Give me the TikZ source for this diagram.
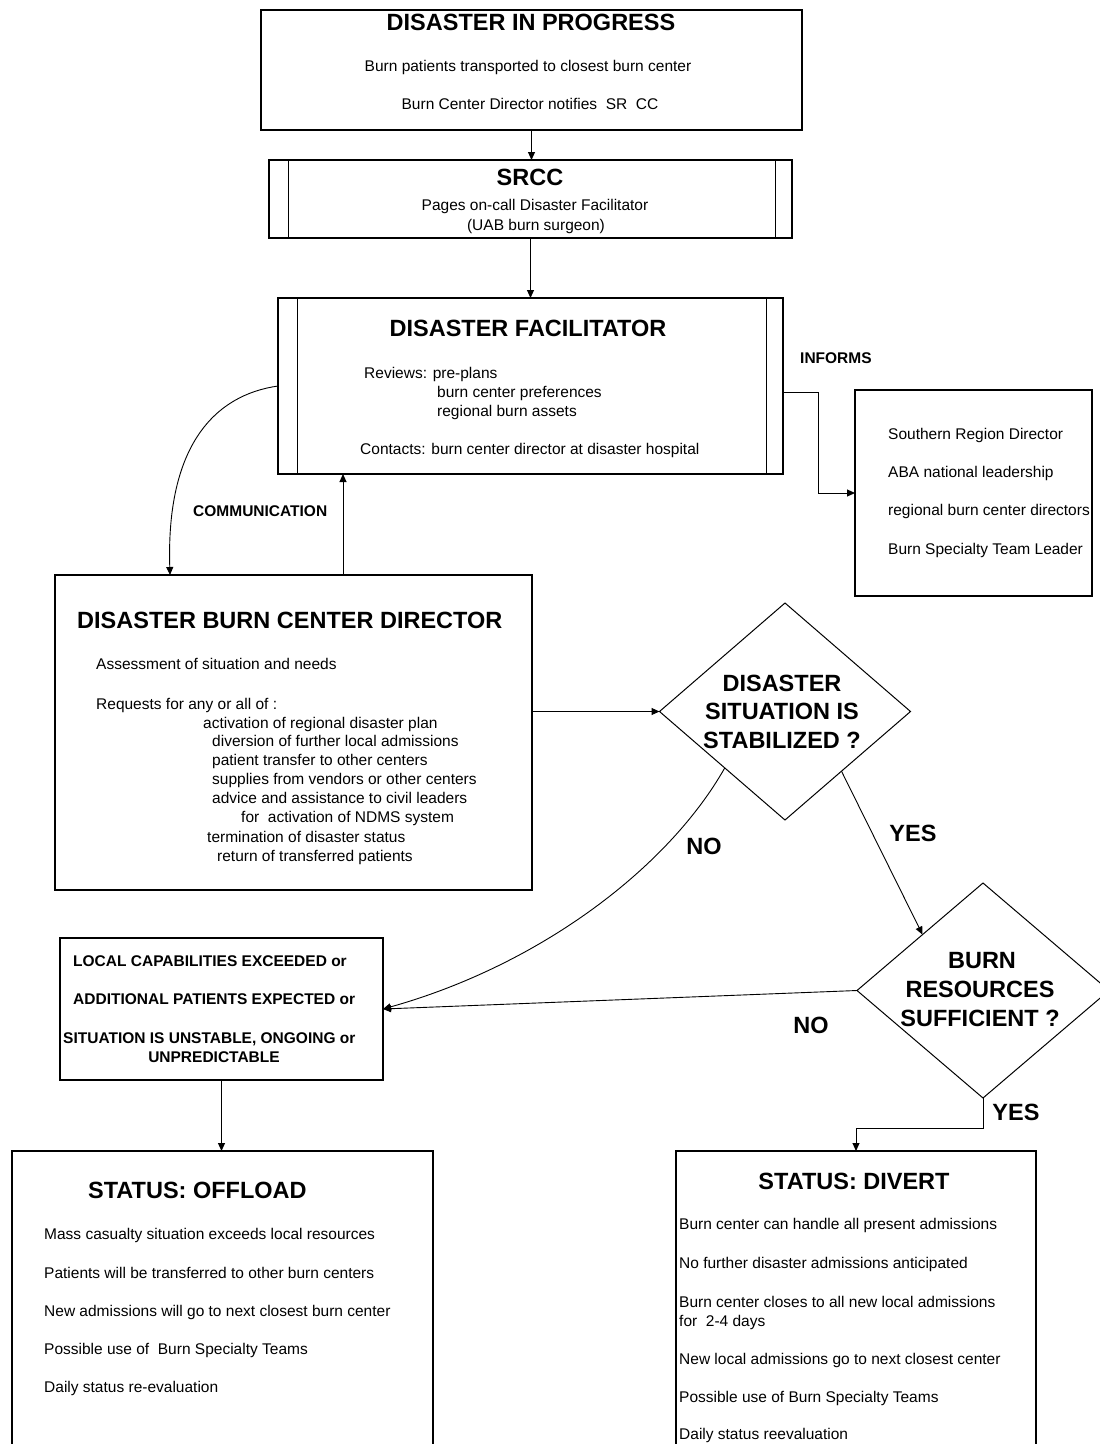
\documentclass[tikz,border=0pt]{standalone}
\usepackage{fontspec}
\setmainfont{Liberation Sans}
\usetikzlibrary{arrows.meta,shapes.geometric,calc}
\newcommand\fsBody{\fontsize{15.5}{18}\selectfont}
\newcommand\fsBig{\fontsize{23.5}{28}\selectfont\bfseries}
\newcommand\fsLab{\fontsize{15.5}{18}\selectfont\bfseries}
\begin{document}
\begin{tikzpicture}[x=1pt,y=-1pt,
  box/.style={draw=black, line width=1.1pt, inner sep=0pt, outer sep=0pt, anchor=north west},
  txt/.style={inner sep=0pt, anchor=base west, font=\fsBody},
  ctxt/.style={inner sep=0pt, anchor=base, font=\fsBody},
  big/.style={inner sep=0pt, anchor=base, font=\fsBig},
  bigw/.style={inner sep=0pt, anchor=base west, font=\fsBig},
  lab/.style={inner sep=0pt, anchor=base west, font=\fsLab},
  dia/.style={diamond, draw=black, line width=1pt, inner sep=0pt, outer sep=0pt},
  arr/.style={-{Triangle[length=8pt,width=7pt]}, line width=1pt},
  inner/.style={line width=1pt}]
\useasboundingbox (0,0) rectangle (1100,1444);
\fill[white] (0,0) rectangle (1100,1444);

% ---- DISASTER IN PROGRESS
\node[box, minimum width=541pt, minimum height=120pt] (prog) at (261,10) {};
\node[big] (progT) at (531,30.4) {DISASTER IN PROGRESS};
\node[ctxt] (progA) at (528,71.5) {Burn patients transported to closest burn center};
\node[ctxt] (progB) at (530,109.5) {Burn Center Director notifies\ \ SR\ \ CC};

% ---- SRCC
\node[box, minimum width=523pt, minimum height=78pt] (srcc) at (269,160) {};
\draw[inner] ([xshift=19pt]srcc.north west) -- ([xshift=19pt]srcc.south west);
\draw[inner] ([xshift=-17pt]srcc.north east) -- ([xshift=-17pt]srcc.south east);
\node[big] (srccT) at (530,185.4) {SRCC};
\node[ctxt] (srccA) at (535,210.5) {Pages on-call Disaster Facilitator};
\node[ctxt] (srccB) at (536,230.5) {(UAB burn surgeon)};

% ---- DISASTER FACILITATOR
\node[box, minimum width=505pt, minimum height=176pt] (df) at (278,298) {};
\draw[inner] ([xshift=19pt]df.north west) -- ([xshift=19pt]df.south west);
\draw[inner] ([xshift=-17pt]df.north east) -- ([xshift=-17pt]df.south east);
\node[big] (dfT) at (528,336.4) {DISASTER FACILITATOR};
\node[txt] (dfA) at (364,378.5) {Reviews: pre-plans};
\node[txt] (dfB) at (437,397.5) {burn center preferences};
\node[txt] (dfC) at (437,416.5) {regional burn assets};
\node[txt] (dfD) at (360,454.5) {Contacts: burn center director at disaster hospital};

% ---- INFORMS box
\node[lab] (informs) at (800,363.5) {INFORMS};
\node[box, minimum width=237pt, minimum height=206pt] (inf) at (855,390) {};
\node[txt] (infA) at (888,439.5) {Southern Region Director};
\node[txt] (infB) at (888,477.5) {ABA national leadership};
\node[txt] (infC) at (888,515.5) {regional burn center directors};
\node[txt] (infD) at (888,554.5) {Burn Specialty Team Leader};

% ---- COMMUNICATION
\node[lab] (comm) at (193,516.5) {COMMUNICATION};

% ---- DISASTER BURN CENTER DIRECTOR
\node[box, minimum width=477pt, minimum height=315pt] (dbcd) at (55,575) {};
\node[bigw] (dbcdT) at (77,628.4) {DISASTER BURN CENTER DIRECTOR};
\node[txt] (dbA) at (96,669.5) {Assessment of situation and needs};
\node[txt] (dbB) at (96,709.5) {Requests for any or all of :};
\node[txt] (dbC) at (203,728.5) {activation of regional disaster plan};
\node[txt] (dbD) at (212,746.5) {diversion of further local admissions};
\node[txt] (dbE) at (212,765.5) {patient transfer to other centers};
\node[txt] (dbF) at (212,784.5) {supplies from vendors or other centers};
\node[txt] (dbG) at (212,803.5) {advice and assistance to civil leaders};
\node[txt] (dbH) at (241,822.5) {for\ \ activation of NDMS system};
\node[txt] (dbI) at (207,842.5) {termination of disaster status};
\node[txt] (dbJ) at (217,861.5) {return of transferred patients};

% ---- Diamond 1
\node[dia, minimum width=251pt, minimum height=217pt] (d1) at (785,711.5) {};
\node[big] (d1A) at (782,691.4) {DISASTER};
\node[big] (d1B) at (782,719.4) {SITUATION IS};
\node[big] (d1C) at (782,748.4) {STABILIZED ?};

% ---- Diamond 2
\node[dia, minimum width=252pt, minimum height=215pt] (d2) at (983,990.5) {};
\node[big] (d2A) at (982,968.4) {BURN};
\node[big] (d2B) at (980,997.4) {RESOURCES};
\node[big] (d2C) at (980,1026.4) {SUFFICIENT ?};

% ---- branch labels
\node[big] (no1) at (704,854.4) {NO};
\node[big] (yes1) at (913,841.4) {YES};
\node[big] (no2) at (811,1033.4) {NO};
\node[big] (yes2) at (1016,1120.4) {YES};

% ---- LOCAL CAPABILITIES box
\node[box, minimum width=323pt, minimum height=142pt] (local) at (60,938) {};
\node[lab] (locA) at (73,966.5) {LOCAL CAPABILITIES EXCEEDED or};
\node[lab] (locB) at (73,1004.5) {ADDITIONAL PATIENTS EXPECTED or};
\node[lab] (locC) at (63,1043.5) {SITUATION IS UNSTABLE, ONGOING or};
\node[lab, anchor=base] (locD) at (214,1062.5) {UNPREDICTABLE};

% ---- STATUS: OFFLOAD
\node[box, minimum width=421pt, minimum height=310pt] (offload) at (12,1151) {};
\node[bigw] (offT) at (88,1198.4) {STATUS: OFFLOAD};
\node[txt] (offA) at (44,1239.5) {Mass casualty situation exceeds local resources};
\node[txt] (offB) at (44,1278.5) {Patients will be transferred to other burn centers};
\node[txt] (offC) at (44,1316.5) {New admissions will go to next closest burn center};
\node[txt] (offD) at (44,1354.5) {Possible use of\ \ Burn Specialty Teams};
\node[txt] (offE) at (44,1392.5) {Daily status re-evaluation};

% ---- STATUS: DIVERT
\node[box, minimum width=360pt, minimum height=310pt] (divert) at (676,1151) {};
\node[big] (divT) at (854,1189.4) {STATUS: DIVERT};
\node[txt] (divA) at (679,1229.5) {Burn center can handle all present admissions};
\node[txt] (divB) at (679,1268.5) {No further disaster admissions anticipated};
\node[txt] (divC) at (679,1307.5) {Burn center closes to all new local admissions};
\node[txt] (divD) at (679,1326.5) {for\ \ 2-4 days};
\node[txt] (divE) at (679,1364.5) {New local admissions go to next closest center};
\node[txt] (divF) at (679,1402.5) {Possible use of Burn Specialty Teams};
\node[txt] (divG) at (679,1439.5) {Daily status reevaluation};

% ---- connectors
\draw[arr] (prog.south) -- (prog.south |- srcc.north);
\draw[arr] (srcc.south) -- (srcc.south |- df.north);
\draw[arr] ([yshift=-6pt]df.east) -- ++(35,0) |- (inf.west);
\coordinate (c2) at (170,575);
\draw[arr, line width=0.9pt] (df.west) .. controls (215,395) and (166,445) .. (c2);
\coordinate (c1) at (343,575);
\draw[arr] (c1) -- (c1 |- df.south);
\draw[arr] (dbcd.east |- d1.west) -- (d1.west);
\coordinate (n1) at ($(d1.west)!0.52!(d1.south)$);
\draw[arr, line width=0.9pt] (n1) .. controls (668,868) and (540,965) .. (local.east);
\coordinate (y1s) at ($(d1.south)!0.45!(d1.east)$);
\coordinate (y1e) at ($(d2.west)!0.52!(d2.north)$);
\draw[arr, line width=0.9pt] (y1s) -- (y1e);
\draw[arr, line width=0.9pt] (d2.west) -- (local.east);
\draw[arr] (d2.south) -- ++(0,30) -| (divert.north);
\draw[arr] (local.south) -- (local.south |- offload.north);
\end{tikzpicture}
\end{document}
